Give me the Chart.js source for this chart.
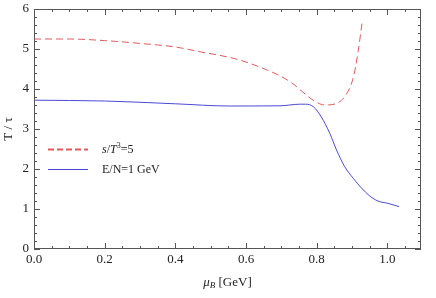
<!DOCTYPE html>
<html>
<head>
<meta charset="utf-8">
<script src="https://cdn.jsdelivr.net/npm/chart.js@4/dist/chart.umd.min.js"></script>
<style>
  html, body { margin: 0; padding: 0; background: #fff; }
  #wrap { width: 436px; height: 298px; }
</style>
</head>
<body>
<div id="wrap"><canvas id="chart" width="436" height="298"></canvas></div>
<script>
/* ---------- DATA ---------- */
const entropyMu = [0, 0.1, 0.2, 0.3, 0.4, 0.47, 0.563, 0.611, 0.658, 0.696, 0.733, 0.761, 0.79, 0.823, 0.856, 0.879, 0.903, 0.917, 0.928];
const entropyT  = [5.25, 5.25, 5.21, 5.14, 5.05, 4.93, 4.77, 4.64, 4.48, 4.33, 4.13, 3.92, 3.72, 3.6, 3.64, 3.81, 4.27, 4.93, 5.64];

const energyMu = [0, 0.2, 0.4, 0.554, 0.696, 0.752, 0.768, 0.79, 0.813, 0.837, 0.856, 0.879, 0.903, 0.926, 0.95, 0.973, 1.002, 1.033];
const energyT  = [3.72, 3.70, 3.63, 3.575, 3.58, 3.62, 3.62, 3.56, 3.3, 2.89, 2.475, 2.06, 1.77, 1.53, 1.325, 1.2, 1.14, 1.06];

const xTicks = [0.0, 0.2, 0.4, 0.6, 0.8, 1.0];
const yTicks = [0, 1, 2, 3, 4, 5, 6];
const legendLabels = ['s/T³=5', 'E/N=1 GeV'];

const RED  = '#e05a5a';
const BLUE = '#4a4ad6';
const FONT = '"Liberation Serif", "Times New Roman", serif';

const toPoints = (xs, ys) => xs.map((x, i) => ({ x, y: ys[i] }));

/* ---------- FRAME / TICKS / LABELS PLUGIN ---------- */
const framePlugin = {
    id: 'frame',
    afterDraw(chart) {
        const { ctx, chartArea: a, scales: { x, y } } = chart;
        ctx.save();
        ctx.strokeStyle = '#555';
        ctx.lineWidth = 1;
        ctx.strokeRect(a.left + 0.5, a.top + 0.5, a.right - a.left - 1, a.bottom - a.top - 1);

        ctx.beginPath();
        // x ticks (major 0.2, minor 0.05), bottom and top, inward
        for (let i = 0; i <= 22; i++) {
            const v = i * 0.05;
            const px = Math.round(x.getPixelForValue(v)) + 0.5;
            if (px > a.right) break;
            const len = (i % 4 === 0) ? 6 : 3;
            ctx.moveTo(px, a.bottom); ctx.lineTo(px, a.bottom - len);
            ctx.moveTo(px, a.top);    ctx.lineTo(px, a.top + len);
        }
        // y ticks (major 1, minor 0.2), left and right, inward
        for (let i = 0; i <= 30; i++) {
            const v = i * 0.2;
            const py = Math.round(y.getPixelForValue(v)) + 0.5;
            const len = (i % 5 === 0) ? 6 : 3;
            ctx.moveTo(a.left, py);  ctx.lineTo(a.left + len, py);
            ctx.moveTo(a.right, py); ctx.lineTo(a.right - len, py);
        }
        ctx.stroke();

        // tick labels
        ctx.fillStyle = '#222';
        ctx.font = '13px ' + FONT;
        ctx.textAlign = 'center';
        ctx.textBaseline = 'top';
        xTicks.forEach(v => ctx.fillText(v.toFixed(1), x.getPixelForValue(v), a.bottom + 4));
        ctx.textAlign = 'right';
        ctx.textBaseline = 'middle';
        yTicks.forEach(v => ctx.fillText(String(v), a.left - 5, y.getPixelForValue(v)));

        // x title: mu_B [GeV]
        const cx = (a.left + a.right) / 2;
        ctx.textBaseline = 'alphabetic';
        ctx.textAlign = 'left';
        ctx.font = 'italic 13px ' + FONT;
        const wMu = ctx.measureText('μ').width;
        ctx.font = 'italic 9px ' + FONT;
        const wB = ctx.measureText('B').width;
        ctx.font = '13px ' + FONT;
        const wRest = ctx.measureText(' [GeV]').width;
        let tx = cx - (wMu + wB + wRest) / 2;
        const ty = 286;
        ctx.font = 'italic 13px ' + FONT;
        ctx.fillText('μ', tx, ty); tx += wMu;
        ctx.font = 'italic 9px ' + FONT;
        ctx.fillText('B', tx, ty + 2); tx += wB;
        ctx.font = '13px ' + FONT;
        ctx.fillText(' [GeV]', tx, ty);

        // y title: T / tau
        ctx.save();
        ctx.translate(9, (a.top + a.bottom) / 2);
        ctx.rotate(-Math.PI / 2);
        ctx.textAlign = 'center';
        ctx.textBaseline = 'middle';
        ctx.font = '13px ' + FONT;
        ctx.fillText('T / τ', 0, 0);
        ctx.restore();

        // legend
        const items = [
            { color: RED, dash: [6, 3], yy: 149.5 },
            { color: BLUE, dash: [], yy: 169.5 }
        ];
        items.forEach(it => {
            ctx.beginPath();
            ctx.setLineDash(it.dash);
            ctx.strokeStyle = it.color;
            ctx.lineWidth = it.dash.length ? 2 : 1;
            ctx.moveTo(48, it.yy); ctx.lineTo(88, it.yy);
            ctx.stroke();
        });
        ctx.setLineDash([]);
        ctx.fillStyle = '#222';
        ctx.textBaseline = 'middle';
        ctx.textAlign = 'left';
        // s/T^3=5 with italic s and T
        let lx = 102;
        ctx.font = 'italic 12px ' + FONT;
        ctx.fillText('s', lx, 150); lx += ctx.measureText('s').width;
        ctx.font = '12px ' + FONT;
        ctx.fillText('/', lx, 150); lx += ctx.measureText('/').width;
        ctx.font = 'italic 12px ' + FONT;
        ctx.fillText('T', lx, 150); lx += ctx.measureText('T').width;
        ctx.font = '8px ' + FONT;
        ctx.fillText('3', lx, 146); lx += ctx.measureText('3').width;
        ctx.font = '12px ' + FONT;
        ctx.fillText('=5', lx, 150);
        ctx.fillText(legendLabels[1], 102, 170);
        ctx.restore();
    }
};

/* ---------- CHART ---------- */
new Chart(document.getElementById('chart'), {
    type: 'line',
    data: {
        datasets: [
            {
                label: legendLabels[0],
                data: toPoints(entropyMu, entropyT),
                borderColor: RED,
                borderWidth: 1,
                borderDash: [7, 4],
                pointRadius: 0,
                cubicInterpolationMode: 'monotone',
                fill: false
            },
            {
                label: legendLabels[1],
                data: toPoints(energyMu, energyT),
                borderColor: BLUE,
                borderWidth: 1,
                pointRadius: 0,
                cubicInterpolationMode: 'monotone',
                fill: false
            }
        ]
    },
    options: {
        responsive: false,
        animation: false,
        devicePixelRatio: 1,
        layout: { padding: { top: 9, right: 15, left: 0, bottom: 0 } },
        plugins: { legend: { display: false }, tooltip: { enabled: false } },
        scales: {
            x: {
                type: 'linear',
                min: 0, max: 1.095,
                grid: { display: false },
                border: { display: false },
                ticks: { display: false },
                afterFit: s => { s.height = 298 - 249; }
            },
            y: {
                type: 'linear',
                min: 0, max: 6,
                grid: { display: false },
                border: { display: false },
                ticks: { display: false },
                afterFit: s => { s.width = 34; }
            }
        }
    },
    plugins: [framePlugin]
});
</script>
</body>
</html>
